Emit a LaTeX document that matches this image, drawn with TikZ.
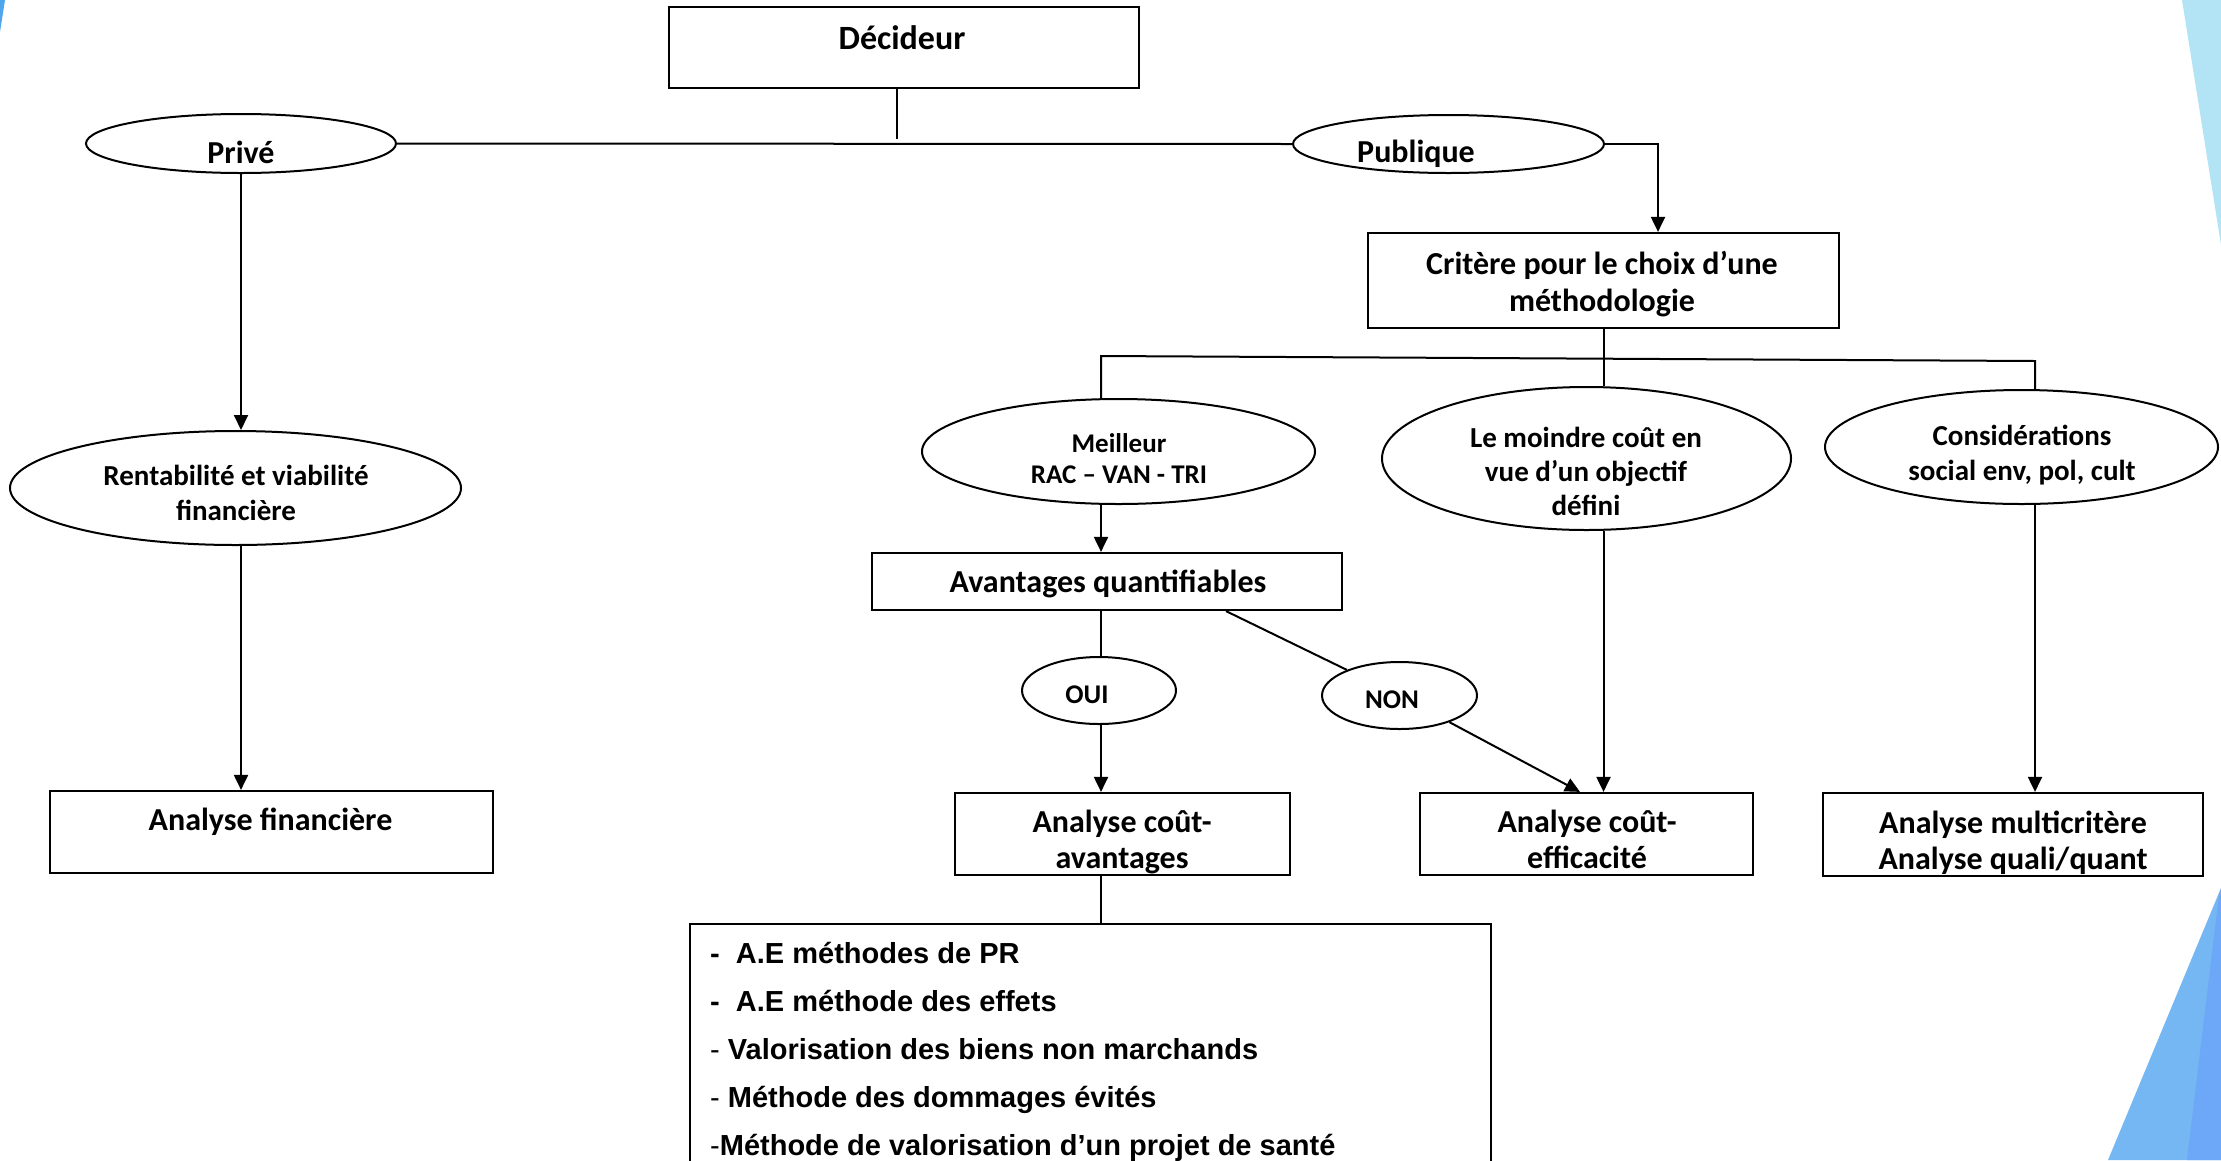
\documentclass[tikz,border=0pt]{standalone}
\usepackage{fontspec}
\newfontfamily\calfont{Carlito}
\newfontfamily\arfont{Liberation Sans}
\usetikzlibrary{shapes.geometric,arrows.meta}
\definecolor{tlblue}{RGB}{80,166,236}
\definecolor{trblue}{RGB}{179,228,246}
\definecolor{brlight}{RGB}{116,183,242}
\definecolor{brdark}{RGB}{108,168,247}
\begin{document}
\begin{tikzpicture}[x=1pt,y=-1pt,
  box/.style={draw, line width=2.2pt, rectangle, inner sep=0pt},
  ell/.style={draw, line width=2pt, ellipse, inner sep=0pt},
  ln/.style={line width=2pt},
  arr/.style={line width=2pt, -{Triangle[length=15pt,width=14pt]}},
  lbl/.style 2 args={anchor=base, align=center, inner sep=0pt,
    font=\calfont\bfseries\fontsize{#1}{#2}\selectfont},
  item/.style={anchor=base west, inner sep=0pt,
    font=\arfont\bfseries\fontsize{29}{29}\selectfont}]
\useasboundingbox (0,0) rectangle (2221,1160);
\clip (0,0) rectangle (2221,1160);
\fill[white] (0,0) rectangle (2221,1160);
% decorations
\fill[tlblue] (0,0) -- (5,0) -- (0,32) -- cycle;
\fill[trblue] (2182,0) -- (2221,0) -- (2221,245) -- cycle;
\fill[brlight] (2221,888) -- (2108,1160) -- (2221,1160) -- cycle;
\fill[brdark] (2219,895) -- (2187,1160) -- (2221,1160) -- (2221,890) -- cycle;

% shapes
\node[box, minimum width=470pt, minimum height=81pt] (dec) at (904,47.5) {};
\node[ell, minimum width=310pt, minimum height=59pt] (prive) at (241,143.5) {};
\node[ell, minimum width=311pt, minimum height=58pt] (pub) at (1448.5,144) {};
\node[box, minimum width=471pt, minimum height=95pt] (crit) at (1603.5,280.5) {};
\node[ell, minimum width=393pt, minimum height=105pt] (meil) at (1118.5,451.5) {};
\node[ell, minimum width=409pt, minimum height=143pt] (moin) at (1586.5,458.5) {};
\node[ell, minimum width=393pt, minimum height=114pt] (cons) at (2021.5,447) {};
\node[ell, minimum width=451pt, minimum height=114pt] (rent) at (235.5,488) {};
\node[box, minimum width=470pt, minimum height=57pt] (avq) at (1107,581.5) {};
\node[ell, minimum width=154pt, minimum height=67pt] (oui) at (1099,690.5) {};
\node[ell, minimum width=155pt, minimum height=67pt] (non) at (1399.5,695.5) {};
\node[box, minimum width=335pt, minimum height=82pt] (cab) at (1122.5,834) {};
\node[box, minimum width=333pt, minimum height=82pt] (cef) at (1586.5,834) {};
\node[box, minimum width=380pt, minimum height=83pt] (mca) at (2013,834.5) {};
\node[box, minimum width=443pt, minimum height=82pt] (fin) at (271.5,832) {};
\node[box, minimum width=801pt, minimum height=276pt] (liste) at (1090.5,1062) {};

% texts (base anchor = baseline of the last line)
\node[lbl={34}{40}] (dec-t) at (902,49) {Décideur};
\node[lbl={32}{37}] (prive-t) at (241,163) {Privé};
\node[lbl={32}{37}] (pub-t) at (1416,162) {Publique};
\node[lbl={32}{37}] (crit-t) at (1602,311) {Critère pour le choix d’une\\méthodologie};
\node[lbl={27}{31}] (meil-t) at (1119,483) {Meilleur\\RAC – VAN - TRI};
\node[lbl={29}{34}] (moin-t) at (1586,515) {Le moindre coût en\\vue d’un objectif\\défini};
\node[lbl={29}{35}] (cons-t) at (2022,480) {Considérations\\social env, pol, cult};
\node[lbl={29}{35}] (rent-t) at (236,520) {Rentabilité et viabilité\\financière};
\node[lbl={32}{37}] (avq-t) at (1108,592) {Avantages quantifiables};
\node[lbl={27}{31}] (oui-t) at (1087,703) {OUI};
\node[lbl={27}{31}] (non-t) at (1392,708) {NON};
\node[lbl={32}{36}] (cab-t) at (1122,868) {Analyse coût-\\avantages};
\node[lbl={32}{36}] (cef-t) at (1587,868) {Analyse coût-\\efficacité};
\node[lbl={32}{36}] (mca-t) at (2013,869) {Analyse multicritère\\Analyse quali/quant};
\node[lbl={32}{37}] (fin-t) at (270.5,830) {Analyse financière};

\node[item] (l1) at (710,963) {-~~A.E méthodes de PR};
\node[item] (l2) at (710,1011) {-~~A.E méthode des effets};
\node[item] (l3) at (710,1059) {{\mdseries -} Valorisation des biens non marchands};
\node[item] (l4) at (710,1107) {{\mdseries -} Méthode des dommages évités};
\node[item] (l5) at (710,1155) {{\mdseries -}Méthode de valorisation d’un projet de santé};

% connectors
\coordinate (colA) at (1101,0);
\coordinate (decj) at (897,139);
\coordinate (brl) at (1101,356);
\coordinate (brr) at (2035,361);
\draw[ln, line width=1.5pt] ([xshift=-7pt]dec.south) -- (decj);
\draw[ln] (prive.east) -- (pub.west);
\draw[arr] (pub.east) -| ([xshift=54.5pt]crit.north);
\draw[arr] (prive.south) -- (prive.south |- rent.north);
\draw[arr] (prive.south |- rent.south) -- (prive.south |- fin.north);
\draw[ln] (crit.south) -- (crit.south |- moin.north);
\draw[ln] (colA |- meil.north) -- (brl) -- (brr) -- (brr |- cons.north);
\draw[arr] (colA |- meil.south) -- (colA |- avq.north);
\draw[ln] (colA |- avq.south) -- (colA |- oui.north);
\draw[arr] (colA |- oui.south) -- (colA |- cab.north);
\draw[ln] (colA |- cab.south) -- (colA |- liste.north);
\draw[ln] ([xshift=119pt]avq.south) -- (non);
\draw[arr] (non) -- ([xshift=-6.5pt]cef.north);
\draw[arr] (crit.south |- moin.south) -- (crit.south |- cef.north);
\draw[arr] (brr |- cons.south) -- (brr |- mca.north);
\end{tikzpicture}
\end{document}
